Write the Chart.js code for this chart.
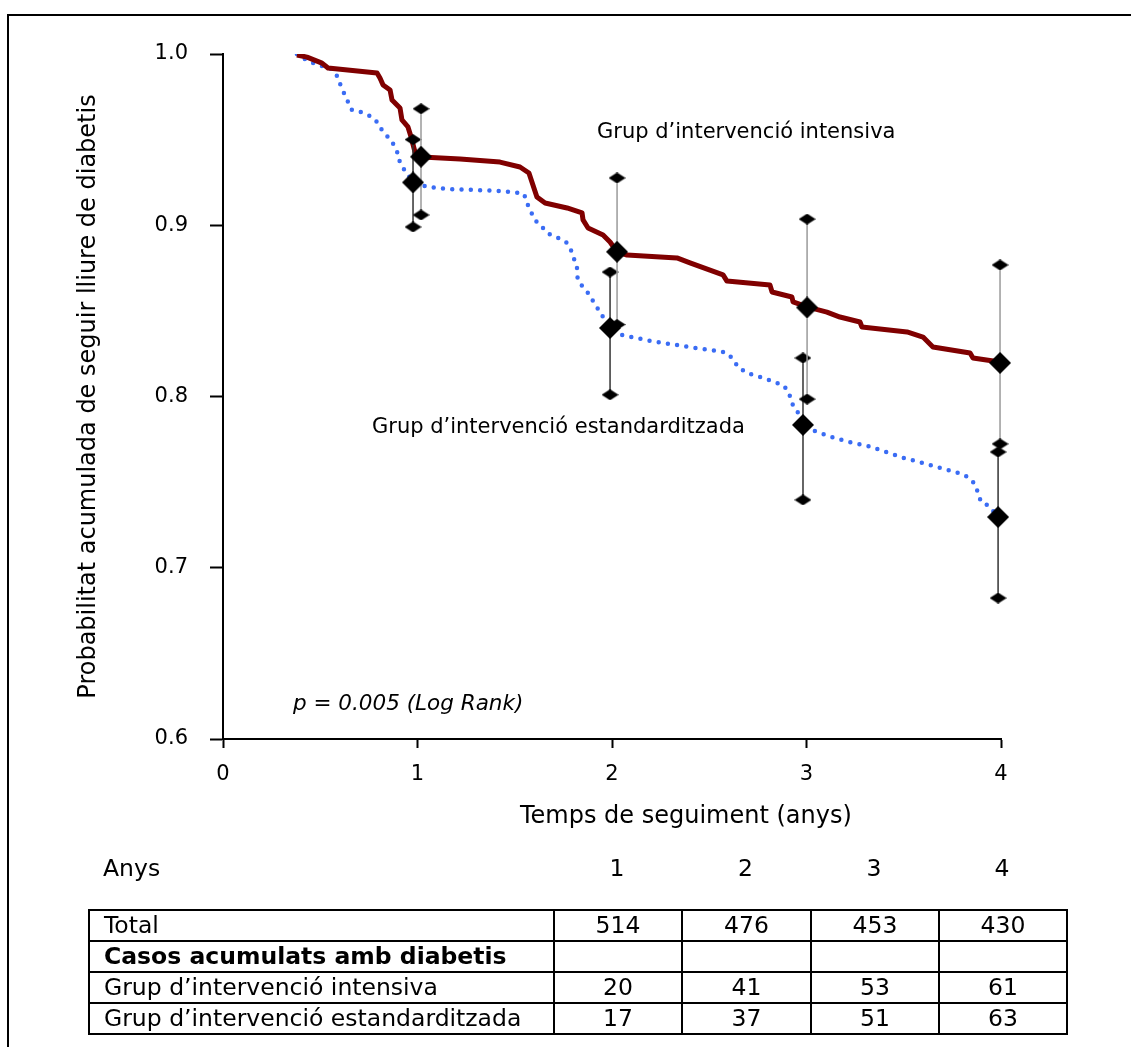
<!DOCTYPE html>
<html>
<head>
<meta charset="utf-8">
<script src="https://cdn.jsdelivr.net/npm/chart.js@4/dist/chart.umd.min.js"></script>
<style>
  html, body { margin: 0; padding: 0; background: #fff; }
  #wrap { position: relative; width: 1131px; height: 1047px; overflow: hidden; font-family: "DejaVu Sans", Verdana, sans-serif; color: #000; }
  #frame { position: absolute; left: 7px; top: 14px; width: 1200px; height: 1100px; border-left: 2px solid #000; border-top: 2px solid #000; }
  #c { position: absolute; left: 0; top: 0; }
  #anys { position: absolute; left: 88px; top: 852px; width: 978px; height: 32px; font-size: 23.5px; }
  #anys div { position: absolute; top: 0; line-height: 32px; }
  #tbl { position: absolute; left: 88px; top: 909px; border-collapse: collapse; font-size: 23.5px; }
  #tbl td { border: 2px solid #000; height: 29px; padding: 0 0 0 14px; line-height: 29px; white-space: nowrap; }
  #tbl td.n { text-align: center; padding: 0; }
</style>
</head>
<body>
<div id="wrap">
  <div id="frame"></div>
  <canvas id="c" width="1131" height="1047"></canvas>
  <div id="anys"></div>
  <table id="tbl"></table>
</div>
<script>
// ---- Data ----
const intensiveTime = [0.380,0.432,0.509,0.540,0.792,0.807,0.823,0.859,0.869,0.910,0.920,0.951,0.967,0.987,1.023,1.219,1.424,1.527,1.573,1.614,1.656,1.769,1.846,1.851,1.877,1.954,1.990,2.026,2.077,2.334,2.401,2.571,2.591,2.812,2.823,2.925,2.931,3.003,3.105,3.172,3.275,3.285,3.517,3.599,3.650,3.841,3.856,3.995];
const intensiveSurv = [0.9994,0.9982,0.9947,0.9918,0.9889,0.9860,0.9819,0.9790,0.9731,0.9685,0.9615,0.9574,0.9515,0.9428,0.9399,0.9387,0.9369,0.9340,0.9305,0.9165,0.9130,0.9101,0.9072,0.9031,0.8984,0.8943,0.8902,0.8844,0.8826,0.8809,0.8780,0.8710,0.8674,0.8651,0.8610,0.8581,0.8552,0.8523,0.8493,0.8464,0.8435,0.8406,0.8377,0.8347,0.8289,0.8254,0.8225,0.8201];

const standardTime = [0.380,0.411,0.463,0.509,0.550,0.586,0.602,0.622,0.643,0.663,0.710,0.756,0.792,0.817,0.848,0.879,0.900,0.910,0.936,0.977,1.054,1.152,1.424,1.527,1.548,1.563,1.584,1.604,1.640,1.676,1.722,1.764,1.789,1.805,1.820,1.823,1.846,1.877,1.902,1.928,1.954,1.990,2.051,2.201,2.396,2.545,2.591,2.622,2.648,2.694,2.781,2.833,2.879,2.910,2.920,2.941,2.977,2.982,3.028,3.126,3.219,3.316,3.409,3.501,3.599,3.692,3.784,3.830,3.866,3.882,3.897,3.938,3.985];
const standardSurv = [1.0000,0.9977,0.9947,0.9930,0.9918,0.9872,0.9825,0.9772,0.9720,0.9673,0.9661,0.9638,0.9603,0.9556,0.9515,0.9469,0.9416,0.9364,0.9317,0.9253,0.9223,0.9212,0.9200,0.9188,0.9182,0.9130,0.9077,0.9031,0.8990,0.8949,0.8926,0.8902,0.8855,0.8803,0.8750,0.8692,0.8645,0.8604,0.8558,0.8511,0.8464,0.8400,0.8359,0.8324,0.8289,0.8266,0.8254,0.8219,0.8172,0.8137,0.8108,0.8085,0.8067,0.8026,0.7974,0.7927,0.7880,0.7834,0.7804,0.7764,0.7734,0.7711,0.7676,0.7641,0.7612,0.7582,0.7553,0.7530,0.7489,0.7437,0.7384,0.7361,0.7296];

// yearly estimates with confidence limits (x read slightly offset as drawn)
const intensiveBarX = [1.018, 2.026, 3.003, 3.995];
const intensiveEst  = [0.940, 0.8845, 0.852, 0.8196];
const intensiveLow  = [0.906, 0.842, 0.7985, 0.7723];
const intensiveHigh = [0.968, 0.9276, 0.9036, 0.8768];
const standardBarX  = [0.977, 1.990, 2.982, 3.985];
const standardEst   = [0.925, 0.840, 0.7834, 0.7296];
const standardLow   = [0.899, 0.801, 0.7396, 0.6823];
const standardHigh  = [0.950, 0.8727, 0.8225, 0.7676];

const xTicks = [0, 1, 2, 3, 4];
const yTicks = [0.6, 0.7, 0.8, 0.9, 1.0];

// table
const tableYears = ['1', '2', '3', '4'];
const totals = [514, 476, 453, 430];
const intensiveCases = [20, 41, 53, 61];
const standardCases = [17, 37, 51, 63];

const labelIntensive = 'Grup d’intervenció intensiva';
const labelStandard = 'Grup d’intervenció estandarditzada';
const pText = 'p = 0.005 (Log Rank)';
const xTitle = 'Temps de seguiment (anys)';
const yTitle = 'Probabilitat acumulada de seguir lliure de diabetis';

// ---- Build ----
function diamond(w, h) {
  const c = document.createElement('canvas');
  c.width = w; c.height = h;
  const g = c.getContext('2d');
  g.fillStyle = '#000';
  g.beginPath();
  g.moveTo(w / 2, 0); g.lineTo(w, h / 2); g.lineTo(w / 2, h); g.lineTo(0, h / 2);
  g.closePath(); g.fill();
  return c;
}
const smallD = diamond(17, 11);
const bigD = diamond(22, 22);

const zip = (xs, ys) => xs.map((x, i) => ({ x: x, y: ys[i] }));

const datasets = [];
datasets.push({ data: zip(intensiveBarX, intensiveEst), showLine: false, pointStyle: bigD, pointRadius: 5, clip: false });
datasets.push({ data: zip(standardBarX, standardEst), showLine: false, pointStyle: bigD, pointRadius: 5, clip: false });
intensiveBarX.forEach((x, i) => {
  datasets.push({ data: [{ x: x, y: intensiveLow[i] }, { x: x, y: intensiveHigh[i] }], showLine: true,
    borderColor: '#9a9a9a', borderWidth: 1.5, pointStyle: smallD, pointRadius: 3, clip: false });
});
standardBarX.forEach((x, i) => {
  datasets.push({ data: [{ x: x, y: standardLow[i] }, { x: x, y: standardHigh[i] }], showLine: true,
    borderColor: '#333', borderWidth: 1.5, pointStyle: smallD, pointRadius: 3, clip: false });
});
datasets.push({ data: zip(intensiveTime, intensiveSurv), showLine: true, borderColor: '#800000', borderWidth: 5,
  pointRadius: 0, tension: 0, borderJoinStyle: 'round', borderCapStyle: 'butt' });
datasets.push({ data: zip(standardTime, standardSurv), showLine: true, borderColor: '#3a6cf4', borderWidth: 4.5,
  pointRadius: 0, tension: 0, borderDash: [0, 9.3], borderCapStyle: 'round' });

const textPlugin = {
  id: 'texts',
  afterDatasetsDraw(chart) {
    const ctx = chart.ctx, xs = chart.scales.x, ys = chart.scales.y;
    ctx.save();
    ctx.fillStyle = '#000';
    ctx.textBaseline = 'middle';
    ctx.textAlign = 'left';
    ctx.font = '21px "DejaVu Sans"';
    ctx.fillText(labelIntensive, xs.getPixelForValue(1.923), ys.getPixelForValue(0.9539));
    ctx.fillText(labelStandard, xs.getPixelForValue(0.766), ys.getPixelForValue(0.7816));
    ctx.font = 'italic 21.5px "DejaVu Sans"';
    ctx.fillText(pText, xs.getPixelForValue(0.360), ys.getPixelForValue(0.6204));
    ctx.textAlign = 'center';
    ctx.font = '24px "DejaVu Sans"';
    ctx.fillText(xTitle, xs.getPixelForValue(2.38), chart.chartArea.bottom + 78);
    ctx.restore();
  }
};

new Chart(document.getElementById('c'), {
  type: 'scatter',
  data: { datasets: datasets },
  options: {
    responsive: false,
    animation: false,
    events: [],
    layout: { padding: { left: 0, top: 54, right: 130, bottom: 248 } },
    plugins: { legend: { display: false }, tooltip: { enabled: false } },
    scales: {
      x: {
        type: 'linear', min: 0, max: 4,
        afterBuildTicks: (s) => { s.ticks = xTicks.map(v => ({ value: v })); },
        afterFit: (s) => { s.height = 60; },
        grid: { drawOnChartArea: false, drawTicks: true, tickLength: 9, tickWidth: 2, tickColor: '#000' },
        border: { display: true, color: '#000', width: 2 },
        ticks: { color: '#000', font: { family: 'DejaVu Sans', size: 21 }, padding: 14, callback: (v) => String(v) }
      },
      y: {
        type: 'linear', min: 0.6, max: 1.0,
        afterBuildTicks: (s) => { s.ticks = yTicks.map(v => ({ value: v })); },
        afterFit: (s) => { s.width = 223; },
        grid: { drawOnChartArea: false, drawTicks: true, tickLength: 13, tickWidth: 2, tickColor: '#000' },
        border: { display: true, color: '#000', width: 2 },
        ticks: { color: '#000', font: { family: 'DejaVu Sans', size: 21 }, padding: 22, callback: (v) => Number(v).toFixed(1) },
        title: { display: true, text: yTitle, color: '#000', font: { family: 'DejaVu Sans', size: 24 }, padding: { top: 74, bottom: 0 } }
      }
    }
  },
  plugins: [textPlugin]
});

// table below the chart
const colW = [465, 128, 129, 128, 128];
const anys = document.getElementById('anys');
const a0 = document.createElement('div'); a0.style.left = '15px'; a0.textContent = 'Anys'; anys.appendChild(a0);
let acc = colW[0];
tableYears.forEach((y, i) => {
  const d = document.createElement('div');
  d.style.left = acc + 'px'; d.style.width = colW[i + 1] + 'px'; d.style.textAlign = 'center';
  d.textContent = y; anys.appendChild(d); acc += colW[i + 1];
});
const tbl = document.getElementById('tbl');
function addRow(label, vals, bold) {
  const tr = document.createElement('tr');
  const td = document.createElement('td');
  td.style.width = (colW[0] - 16) + 'px';
  if (bold) td.style.fontWeight = 'bold';
  td.textContent = label; tr.appendChild(td);
  vals.forEach((v, i) => {
    const c = document.createElement('td'); c.className = 'n';
    c.style.width = (colW[i + 1] - 2) + 'px';
    c.textContent = v; tr.appendChild(c);
  });
  tbl.appendChild(tr);
}
addRow('Total', totals, false);
addRow('Casos acumulats amb diabetis', ['', '', '', ''], true);
addRow(labelIntensive, intensiveCases, false);
addRow(labelStandard, standardCases, false);
</script>
</body>
</html>
